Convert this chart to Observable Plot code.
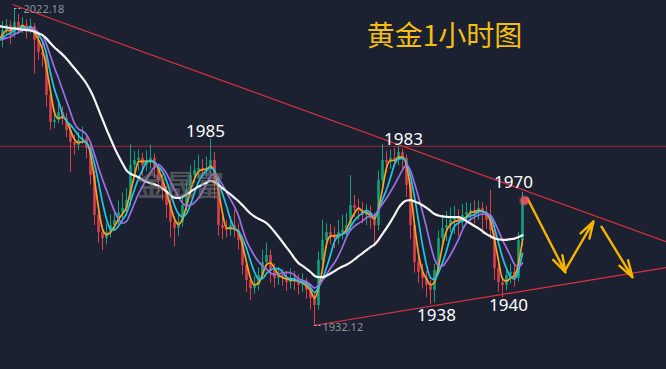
<!DOCTYPE html>
<html>
<head>
<meta charset="utf-8">
<script src="https://cdn.jsdelivr.net/npm/d3@7"></script>
<script src="https://cdn.jsdelivr.net/npm/@observablehq/plot@0.6"></script>
<style>
  html, body { margin: 0; padding: 0; background: #1b2131; overflow: hidden; }
  #chart { width: 666px; height: 369px; }
</style>
</head>
<body>
<div id="chart"></div>
<script>
// 1-hour gold candles (price in USD)
const open = [2013.5,2015.9,2017.4,2014.5,2018.2,2016.5,2017.4,2015.9,2017.1,2013.1,
2009.7,2008.8,1997.5,1989.8,1990.4,1992.6,1990.9,1987.5,1984.1,1983.3,
1984.7,1985.2,1982.4,1974.7,1963.4,1958.5,1956.8,1958.5,1960.5,1962.0,
1964.2,1965.4,1967.6,1977.6,1979.0,1979.6,1977.6,1979.0,1979.6,1976.7,
1973.3,1970.5,1966.2,1961.4,1959.7,1961.4,1966.2,1970.5,1974.7,1976.2,
1976.7,1976.2,1976.7,1979.0,1971.9,1960.5,1959.7,1959.1,1960.5,1959.1,
1956.3,1949.2,1944.9,1942.6,1943.5,1946.3,1950.0,1952.0,1947.7,1945.5,
1946.3,1945.5,1944.3,1945.5,1944.9,1943.5,1944.3,1942.1,1939.8,1937.8,
1950.6,1956.3,1958.5,1957.7,1956.8,1958.5,1959.1,1960.5,1966.2,1965.4,
1964.8,1963.4,1964.2,1962.5,1960.5,1973.3,1979.0,1978.4,1979.6,1979.0,
1981.3,1979.6,1971.9,1960.5,1950.0,1947.2,1945.5,1943.5,1942.1,1947.7,
1956.8,1959.7,1960.5,1962.0,1962.5,1961.4,1963.4,1964.2,1964.8,1964.2,
1965.4,1964.2,1962.0,1959.1,1948.3,1944.3,1943.5,1946.3,1947.2,1945.5,
1956.3];
const high = [2018.5,2019.0,2018.6,2022.18,2020.5,2019.6,2018.9,2019.2,2017.9,2014.2,
2012.5,2010.0,1999.0,1993.5,1995.0,1994.3,1992.4,1988.6,1986.2,1987.0,
1988.5,1986.4,1983.5,1976.0,1964.5,1960.5,1961.0,1963.5,1964.8,1967.5,
1969.8,1971.0,1983.5,1981.5,1982.0,1981.0,1981.8,1983.4,1980.8,1978.0,
1975.0,1971.5,1968.0,1963.0,1964.0,1968.5,1973.0,1977.5,1979.0,1980.5,
1979.3,1980.0,1985.2,1981.2,1973.0,1963.5,1962.0,1963.0,1964.8,1961.0,
1957.5,1950.5,1946.0,1946.0,1948.5,1953.5,1955.5,1953.5,1949.5,1948.6,
1948.0,1947.5,1948.2,1947.5,1946.5,1946.8,1945.5,1943.5,1941.5,1953.0,
1962.0,1961.0,1960.8,1960.0,1962.0,1963.5,1964.0,1974.7,1969.0,1968.0,
1967.0,1966.5,1966.0,1964.0,1976.0,1983.6,1981.5,1982.0,1982.5,1983.0,
1982.3,1980.5,1973.0,1962.0,1952.0,1949.5,1947.5,1945.0,1949.5,1959.0,
1963.5,1964.5,1965.5,1966.0,1965.0,1966.5,1967.0,1966.8,1967.5,1967.5,
1967.0,1966.0,1970.5,1960.5,1949.5,1946.0,1948.0,1949.5,1949.0,1958.5,
1970.0];
const low = [2011.0,2014.8,2012.0,2013.8,2015.2,2015.0,2013.5,2015.0,2003.5,2007.5,
2005.5,1994.0,1987.6,1988.0,1989.5,1989.0,1985.5,1975.6,1980.5,1981.8,
1983.5,1979.5,1972.0,1960.5,1955.5,1953.4,1955.0,1957.0,1958.8,1960.5,
1962.5,1963.0,1966.0,1975.0,1976.0,1974.5,1975.8,1976.5,1974.0,1970.0,
1967.5,1962.5,1957.0,1954.5,1957.5,1960.0,1964.5,1969.0,1972.5,1974.0,
1973.5,1974.2,1975.0,1968.0,1957.5,1956.5,1957.0,1957.5,1957.0,1953.5,
1946.5,1941.5,1939.2,1941.0,1942.0,1945.0,1948.5,1944.0,1942.8,1943.5,
1943.2,1941.8,1942.5,1942.0,1940.8,1941.5,1939.5,1936.5,1932.12,1936.5,
1949.0,1954.0,1955.0,1954.0,1955.0,1956.5,1957.0,1959.0,1962.8,1962.0,
1961.0,1960.5,1959.5,1954.4,1959.0,1971.5,1975.5,1976.5,1977.0,1977.5,
1976.0,1968.5,1956.5,1947.0,1944.0,1942.5,1940.0,1938.0,1938.5,1946.5,
1955.0,1956.0,1958.5,1958.0,1957.5,1959.5,1961.0,1961.5,1961.0,1962.0,
1958.0,1959.5,1956.5,1945.0,1941.5,1940.0,1942.0,1944.0,1943.0,1944.5,
1954.5];
const close = [2015.9,2017.4,2014.5,2018.2,2016.5,2017.4,2015.9,2017.1,2013.1,2009.7,
2008.8,1997.5,1989.8,1990.4,1992.6,1990.9,1987.5,1984.1,1983.3,1984.7,
1985.2,1982.4,1974.7,1963.4,1958.5,1956.8,1958.5,1960.5,1962.0,1964.2,
1965.4,1967.6,1977.6,1979.0,1979.6,1977.6,1979.0,1979.6,1976.7,1973.3,
1970.5,1966.2,1961.4,1959.7,1961.4,1966.2,1970.5,1974.7,1976.2,1976.7,
1976.2,1976.7,1979.0,1971.9,1960.5,1959.7,1959.1,1960.5,1959.1,1956.3,
1949.2,1944.9,1942.6,1943.5,1946.3,1950.0,1952.0,1947.7,1945.5,1946.3,
1945.5,1944.3,1945.5,1944.9,1943.5,1944.3,1942.1,1939.8,1937.8,1950.6,
1956.3,1958.5,1957.7,1956.8,1958.5,1959.1,1960.5,1966.2,1965.4,1964.8,
1963.4,1964.2,1962.5,1960.5,1973.3,1979.0,1978.4,1979.6,1979.0,1981.3,
1979.6,1971.9,1960.5,1950.0,1947.2,1945.5,1943.5,1942.1,1947.7,1956.8,
1959.7,1960.5,1962.0,1962.5,1961.4,1963.4,1964.2,1964.8,1964.2,1965.4,
1964.2,1962.0,1959.1,1948.3,1944.3,1943.5,1946.3,1947.2,1945.5,1956.3,
1967.6];
// closes of the candles just before the visible window (feed the moving averages)
const historyClose = [2020.5,2021.0,2019.9,2019.3,2020.8,2020.2,2018.8,2019.6,2020.5,2019.9,
2019.0,2018.2,2017.4,2015.4,2013.7,2012.5,2011.7,2013.1,2011.9,2013.7,2014.5];

// moving average periods (in candles)
const maPeriods = [3, 5, 8, 21];
const maColors = ["#f7a21e", "#1fc6e8", "#9a70e2", "#f6f6f6"];
const maWidths = [1.7, 1.7, 1.7, 2.2];

// key levels & annotations
const resistance = [1983.0];
const trendX1 = [2.5, 77.75];
const trendY1 = [2023.3, 1932.12];
const trendX2 = [166, 166];
const trendY2 = [1955.9, 1948.6];

const forecastX1 = [131.25, 140.5, 149.75];
const forecastY1 = [1968.2, 1947.5, 1960.2];
const forecastX2 = [140.75, 147.75, 157.5];
const forecastY2 = [1947.2, 1961.7, 1945.8];

const labelText = ["1985", "1983", "1970", "1938", "1940"];
const labelX = [50.75, 100.25, 127.75, 108.5, 126.5];
const labelY = [1987.2, 1985.0, 1972.7, 1935.0, 1937.8];

const extremeText = ["2022.18", "1932.12"];
const extremeX = [5.25, 80];
const extremeY = [2022.0, 1931.6];
const extremeIdx = [3, 78];
const extremeVal = [2022.18, 1932.12];

const title = "黄金1小时图";
const watermark = "金晟富";

const candles = close.map((c, i) => ({i, open: open[i], high: high[i], low: low[i], close: c}));
const nh = historyClose.length;
const series = historyClose.map((c, k) => ({i: k - nh, close: c})).concat(candles.map(d => ({i: d.i, close: d.close})));
const trends = trendX1.map((x1, k) => ({x1, y1: trendY1[k], x2: trendX2[k], y2: trendY2[k]}));
const forecasts = forecastX1.map((x1, k) => ({x1, y1: forecastY1[k], x2: forecastX2[k], y2: forecastY2[k]}));
const labels = labelText.map((t, k) => ({t, x: labelX[k], y: labelY[k]}));
const extremes = extremeText.map((t, k) => ({t, x: extremeX[k], y: extremeY[k], i: extremeIdx[k], v: extremeVal[k]}));

const UP = "#12a27e", DOWN = "#dd3f4b";
const color = d => d.close >= d.open ? UP : DOWN;

const maMarks = maPeriods.map((k, j) =>
  Plot.lineY(series, Plot.windowY({k, anchor: "end", reduce: "mean", strict: false},
    {x: "i", y: "close", stroke: maColors[j], strokeWidth: maWidths[j], curve: "monotone-x", clip: true}))
);

const chart = Plot.plot({
  width: 666,
  height: 369,
  margin: 0,
  style: {background: "#1b2131", overflow: "hidden"},
  x: {type: "linear", domain: [-0.5, 166], axis: null},
  y: {type: "linear", domain: [1919.62, 2024.45], axis: null},
  marks: [
    Plot.ruleY(resistance, {stroke: "#862632", strokeWidth: 1.4}),
    Plot.ruleX(candles, {x: "i", y1: "low", y2: "high", stroke: color, strokeWidth: 1, clip: true}),
    Plot.ruleX(candles, {x: "i", y1: "open", y2: "close", stroke: color, strokeWidth: 2.6, clip: true}),
    ...maMarks,
    Plot.link(trends, {x1: "x1", y1: "y1", x2: "x2", y2: "y2", stroke: "#e2313e", strokeWidth: 1.2}),
    Plot.link(extremes, {x1: "i", y1: "v", x2: d => d.i + 1.7, y2: "v", stroke: "#b9bcc4", strokeWidth: 1, strokeDasharray: "2,2"}),
    Plot.text(extremes, {x: "x", y: "y", text: "t", fill: "#8d929c", fontSize: 11, textAnchor: "start", lineAnchor: "middle", fontFamily: "Noto Sans, sans-serif"}),
    Plot.arrow(forecasts, {x1: "x1", y1: "y1", x2: "x2", y2: "y2", stroke: "#f4b400", strokeWidth: 2.4, headLength: 11, headAngle: 34}),
    Plot.dot([candles[candles.length - 1]], {x: d => d.i + 0.5, y: "close", r: 4, fill: "#ee5868", fillOpacity: 0.85, stroke: "#ee5868", strokeOpacity: 0.3, strokeWidth: 3}),
    Plot.text(labels, {x: "x", y: "y", text: "t", fill: "#ffffff", fontSize: 17, textAnchor: "middle", lineAnchor: "middle", fontFamily: "Noto Sans, sans-serif"}),
    Plot.text([title], {text: d => d, frameAnchor: "top-left", dx: 444, dy: 37, fill: "#f5be10", fontSize: 28, textAnchor: "middle", lineAnchor: "middle", fontFamily: "Noto Sans CJK SC, sans-serif"}),
    Plot.text([watermark], {text: d => d, frameAnchor: "top-left", dx: 180, dy: 186, fill: "#7a7a7a", fillOpacity: 0.55, fontSize: 29, fontWeight: "bold", textAnchor: "middle", lineAnchor: "middle", fontFamily: "Noto Sans CJK SC, sans-serif"})
  ]
});
document.getElementById("chart").appendChild(chart);
</script>
</body>
</html>
